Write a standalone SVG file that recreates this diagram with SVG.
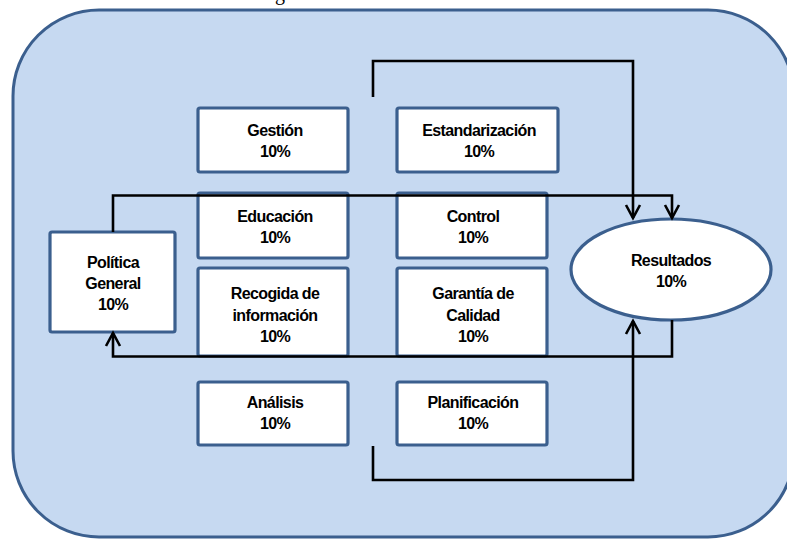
<svg xmlns="http://www.w3.org/2000/svg" width="787" height="540" viewBox="0 0 787 540">
  <style>
    .panel { fill: #C6D9F1; stroke: #3B5F8E; stroke-width: 3; }
    .box { fill: #FFFFFF; stroke: #3B5F8E; stroke-width: 3.2; }
    .lbl { font-family: "Liberation Sans", Arial, sans-serif; font-size: 16px; font-weight: bold; letter-spacing: -0.6px; fill: #000; text-anchor: middle; }
    .caption { font-family: "Liberation Serif", "Times New Roman", serif; font-size: 20px; fill: #000; }
    .wire { fill: none; stroke: #000; stroke-width: 2.6; stroke-linejoin: miter; }
  </style>
  <defs>
    <marker id="open-arrow" viewBox="0 0 20 20" refX="17" refY="10" markerWidth="20" markerHeight="20" markerUnits="userSpaceOnUse" orient="auto">
      <path d="M4,3 L17,10 L4,17" fill="none" stroke="#000" stroke-width="2.6"/>
    </marker>
  </defs>

  <rect width="787" height="540" fill="#FFFFFF"/>

  <!-- title line above the panel, running off the top edge -->
  <text class="caption" x="15" y="-0.5">Estructura del modelo de Deming</text>

  <!-- background panel -->
  <rect class="panel" x="13" y="10" width="781" height="527" rx="86" ry="86"/>

  <!-- nodes -->
  <g id="gestion">
    <rect class="box" x="198" y="108" width="150" height="64" rx="2"/>
    <text class="lbl" x="275" y="136">Gestión</text>
    <text class="lbl" x="275" y="157">10%</text>
  </g>
  <g id="estandarizacion">
    <rect class="box" x="397" y="108" width="161" height="64" rx="2"/>
    <text class="lbl" x="479" y="136">Estandarización</text>
    <text class="lbl" x="479" y="157">10%</text>
  </g>
  <g id="educacion">
    <rect class="box" x="198" y="193" width="150" height="65" rx="2"/>
    <text class="lbl" x="275" y="222">Educación</text>
    <text class="lbl" x="275" y="243">10%</text>
  </g>
  <g id="control">
    <rect class="box" x="397" y="193" width="150" height="65" rx="2"/>
    <text class="lbl" x="473" y="222">Control</text>
    <text class="lbl" x="473" y="243">10%</text>
  </g>
  <g id="recogida">
    <rect class="box" x="198" y="268" width="150" height="88" rx="2"/>
    <text class="lbl" x="275" y="299">Recogida de</text>
    <text class="lbl" x="275" y="321">información</text>
    <text class="lbl" x="275" y="342">10%</text>
  </g>
  <g id="garantia">
    <rect class="box" x="397" y="268" width="150" height="88" rx="2"/>
    <text class="lbl" x="473" y="299">Garantía de</text>
    <text class="lbl" x="473" y="321">Calidad</text>
    <text class="lbl" x="473" y="342">10%</text>
  </g>
  <g id="analisis">
    <rect class="box" x="198" y="382" width="150" height="63" rx="2"/>
    <text class="lbl" x="275" y="408">Análisis</text>
    <text class="lbl" x="275" y="429">10%</text>
  </g>
  <g id="planificacion">
    <rect class="box" x="397" y="382" width="150" height="63" rx="2"/>
    <text class="lbl" x="473" y="408">Planificación</text>
    <text class="lbl" x="473" y="429">10%</text>
  </g>
  <g id="politica">
    <rect class="box" x="50" y="232" width="125" height="100" rx="2"/>
    <text class="lbl" x="113" y="268">Política</text>
    <text class="lbl" x="113" y="289">General</text>
    <text class="lbl" x="113" y="310">10%</text>
  </g>
  <g id="resultados">
    <ellipse class="box" cx="671" cy="269.5" rx="100" ry="50.5"/>
    <text class="lbl" x="671" y="266">Resultados</text>
    <text class="lbl" x="671" y="287">10%</text>
  </g>

  <!-- connectors -->
  <g id="connectors">
    <path class="wire" d="M373,97 L373,61 L633,61 L633,218" marker-end="url(#open-arrow)"/>
    <path class="wire" d="M113,232 L113,195.5 L672,195.5 L672,218" marker-end="url(#open-arrow)"/>
    <path class="wire" d="M672,320 L672,356.5 L113,356.5 L113,333" marker-end="url(#open-arrow)"/>
    <path class="wire" d="M373,446 L373,480 L633,480 L633,321" marker-end="url(#open-arrow)"/>
  </g>
</svg>
